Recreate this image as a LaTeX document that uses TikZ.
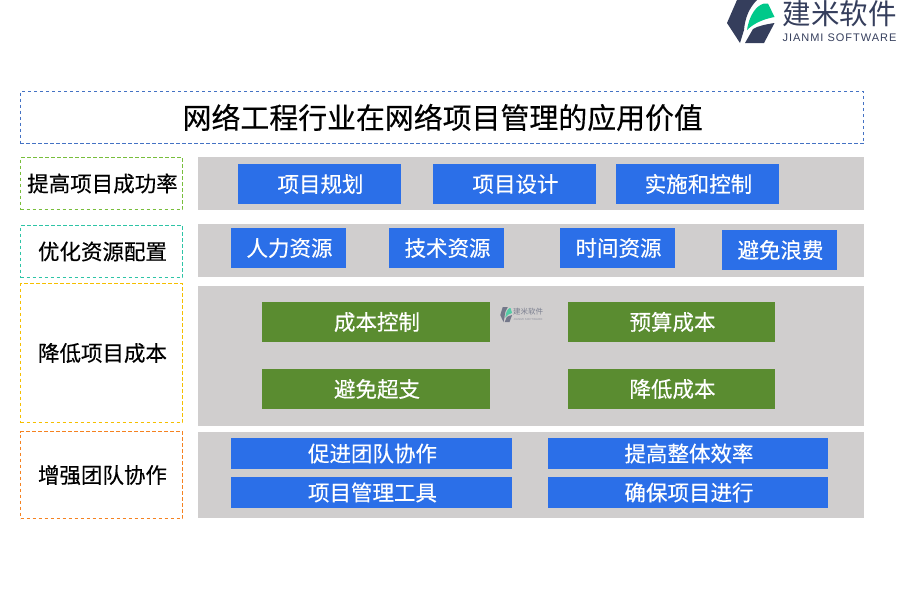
\documentclass[tikz,border=0pt]{standalone}
\usepackage{fontspec}
\setmainfont[FakeBold=0.35]{Noto Sans CJK SC}
\setsansfont{Noto Sans CJK SC}
\newfontfamily\latinfont[LetterSpace=9]{Liberation Sans}
\newfontfamily\plaincjk{Noto Sans CJK SC}
\newcommand{\bx}[7]{\node[#6,minimum width={(#4-#2)*1pt},minimum height={(#5-#3)*1pt}] (#1) at ({(#2+#4)/2},{(#3+#5)/2}) {#7};}
\definecolor{bandgray}{HTML}{D0CECE}
\definecolor{boxblue}{HTML}{2B6FE8}
\definecolor{boxgreen}{HTML}{5A8C30}
\definecolor{logodark}{HTML}{353E5C}
\definecolor{logogreen}{HTML}{00C98A}
\definecolor{ftitle}{HTML}{4472C4}
\definecolor{fgreen}{HTML}{78BE3C}
\definecolor{fteal}{HTML}{2EC4A6}
\definecolor{fyellow}{HTML}{F5BF00}
\definecolor{forange}{HTML}{F58220}
\tikzset{
 base/.style={inner sep=0pt,outer sep=0pt,rectangle},
 nudged/.style={execute at begin node={\hspace*{2pt}}},
 frame/.style={base,nudged,draw=#1,line width=1pt,dash pattern=on 3.5pt off 2.5pt,text=black,font=\fontsize{21.5}{24}\selectfont},
 grayband/.style={base,fill=bandgray},
 bluebox/.style={base,nudged,fill=boxblue,text=white,font=\fontsize{21.5}{24}\selectfont},
 greenbox/.style={base,nudged,fill=boxgreen,text=white,font=\fontsize{21.5}{24}\selectfont},
 logoname/.style={base,text=logodark,anchor=center},
}
\newcommand{\logo}[5]{%
\begin{scope}[shift={(#1,#2)},x=#3pt,y=-#5pt,opacity=#4]
\fill[logodark] (15,0) -- (35,0) .. controls (27,8) and (23,18) .. (22,30) -- (18,43) -- (5,23) -- cycle;
\fill[logogreen] (25,30) .. controls (27,17) and (33,6) .. (42,3.5) -- (46,3.5) -- (52.5,17) .. controls (42,19) and (32,23) .. (25,30) -- cycle;
\fill[logodark] (23,43) -- (31,29) .. controls (36,26) and (43,24.5) .. (52.5,23) -- (42,43) -- cycle;
\end{scope}}
\begin{document}
\begin{tikzpicture}[x=1pt,y=-1pt]
\useasboundingbox (0,0) rectangle (900,600);
% left frames
\bx{title}{20}{91.5}{863.5}{143.5}{frame=ftitle,font=\fontsize{28.9}{32}\selectfont}{网络工程行业在网络项目管理的应用价值}
\bx{l1}{20.5}{157.5}{182.5}{209.5}{frame=fgreen}{提高项目成功率}
\bx{l2}{20.5}{225.5}{182.5}{277.5}{frame=fteal}{优化资源配置}
\bx{l3}{20.5}{283.5}{182.5}{422.5}{frame=fyellow}{降低项目成本}
\bx{l4}{20.5}{431.5}{182.5}{518.5}{frame=forange}{增强团队协作}
% bands
\bx{g1}{198}{157}{864}{210}{grayband}{}
\bx{g2}{198}{224}{864}{277}{grayband}{}
\bx{g3}{198}{286}{864}{426}{grayband}{}
\bx{g4}{198}{432}{864}{518}{grayband}{}
% row 1
\bx{a1}{238}{164}{401}{204}{bluebox}{项目规划}
\bx{a2}{433}{164}{596}{204}{bluebox}{项目设计}
\bx{a3}{616}{164}{779}{204}{bluebox}{实施和控制}
% row 2
\bx{b1}{231}{228}{346}{268}{bluebox}{人力资源}
\bx{b2}{389}{228}{504}{268}{bluebox}{技术资源}
\bx{b3}{560}{228}{675}{268}{bluebox}{时间资源}
\bx{b4}{722}{230}{837}{270}{bluebox}{避免浪费}
% row 3
\bx{c1}{262}{302}{490}{342}{greenbox}{成本控制}
\bx{c2}{568}{302}{775}{342}{greenbox}{预算成本}
\bx{c3}{262}{369}{490}{409}{greenbox}{避免超支}
\bx{c4}{568}{369}{775}{409}{greenbox}{降低成本}
% row 4
\bx{d1}{231}{438}{512}{469}{bluebox}{促进团队协作}
\bx{d2}{548}{438}{828}{469}{bluebox}{提高整体效率}
\bx{d3}{231}{477}{512}{508}{bluebox}{项目管理工具}
\bx{d4}{548}{477}{828}{508}{bluebox}{确保项目进行}
% top logo
\logo{722}{0}{1}{1}{1}
\node[logoname,font=\plaincjk\fontsize{28.5}{30}\selectfont] (ln) at (839.5,13.5) {建米软件};
\node[logoname,font=\latinfont\fontsize{11}{12}\selectfont] (ls) at (839.5,38) {JIANMI SOFTWARE};
% watermark
\logo{499}{307}{0.25}{0.6}{0.35}
\node[logoname,opacity=0.55,font=\plaincjk\fontsize{7.5}{9}\selectfont] (wn) at (528,311.5) {建米软件};
\node[logoname,opacity=0.45,font=\latinfont\fontsize{2.8}{4}\selectfont] (ws) at (528,320) {JIANMI SOFTWARE};
\end{tikzpicture}
\end{document}
